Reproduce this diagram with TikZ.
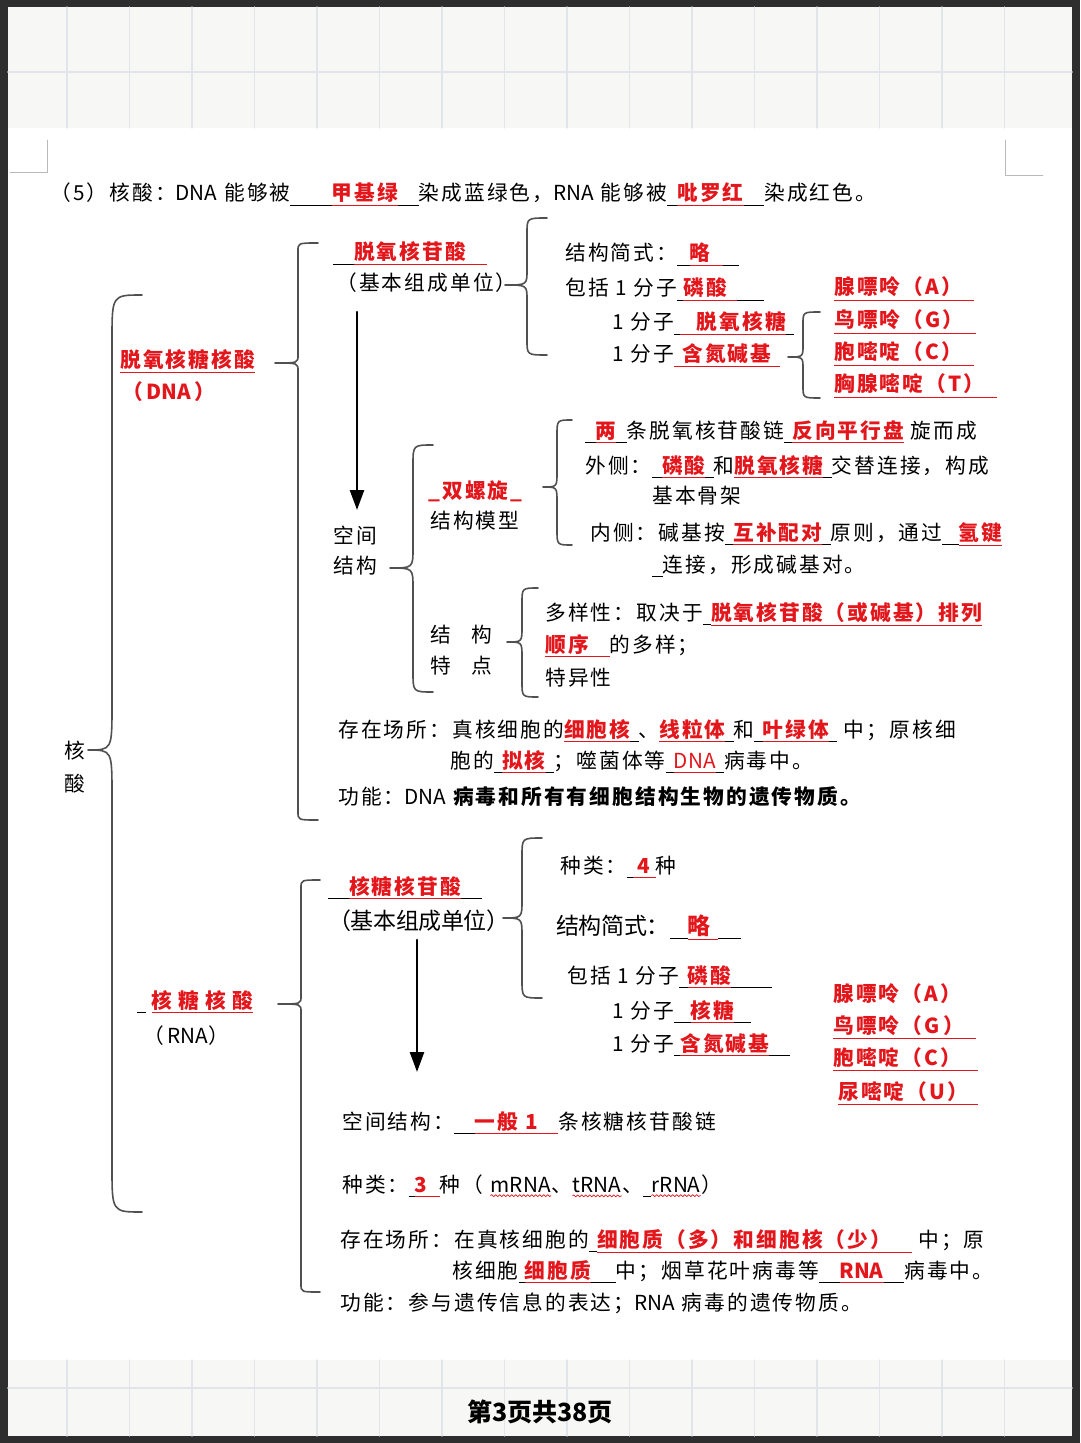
\documentclass[tikz,border=0pt]{standalone}
\usepackage{fontspec}
\setmainfont{Noto Sans CJK SC}[LetterSpace=10]
\usetikzlibrary{arrows.meta, decorations.pathmorphing}
\definecolor{keyred}{HTML}{E3161B}
\definecolor{framedark}{HTML}{2E2E2E}
\definecolor{band}{HTML}{F7F7F5}
\definecolor{gridln}{HTML}{E1E4E8}
\definecolor{bracegray}{HTML}{505050}
% red answer, underlined; black blank line; wavy mark; latin without spacing
\newcommand\redans[1]{\textcolor{keyred}{\underline{\vphantom{字}\bfseries #1}}}
\newcommand\blnk[1]{\underline{\vphantom{字}\hspace{#1}}}
\newcommand\nls[1]{{\addfontfeature{LetterSpace=0}#1}}
\newcommand\wav[1]{\tikz[baseline=(w.base)]{\node[inner sep=0pt] (w) {\nls{#1}};
  \draw[keyred, line width=0.35pt, decorate, decoration={snake, amplitude=0.5pt, segment length=2pt}]
    ([yshift=-1.6pt]w.south west) -- ([yshift=-1.6pt]w.south east);}}
\begin{document}
\begin{tikzpicture}[x=0.5pt, y=-0.5pt, line cap=round, line join=round,
  txt/.style={anchor=base west, inner sep=0pt, font=\fontsize{10.35}{12}\selectfont},
  big/.style={txt, font=\fontsize{11.5}{13}\selectfont\addfontfeature{LetterSpace=-2}},
  brace/.style={draw=bracegray, line width=0.8pt},
  arr/.style={line width=1.3pt, -{Triangle[length=10pt,width=7pt]}}]
\useasboundingbox (0,0) rectangle (1080,1443);
% page and the grid bands
\fill[framedark] (0,0) rectangle (1080,1443);
\fill[white] (8,7) rectangle (1072,1436);
\fill[band] (8,7) rectangle (1072,128);
\fill[band] (8,1360) rectangle (1072,1436);
\foreach \gx in {67,129.5,...,1050}
  \draw[gridln, line width=0.6pt] (\gx,7) -- (\gx,128) (\gx,1360) -- (\gx,1436);
\draw[gridln, line width=0.8pt] (8,72) -- (1072,72) (8,1388) -- (1072,1388);
\draw[gray!55] (10,172) -- (47,172) -- (47,140);
\draw[gray!55] (1043,175) -- (1005,175) -- (1005,140);
% braces: spine x / end x / tip x / top / tip y / bottom / curl
\foreach \sx/\ex/\tx/\yt/\ym/\yb/\rr in {112/142/88/295/750/1212/45,
    298/318/275/243/363/820/8, 527/547/505/218/285/355/15,
    803/820/788/312/357/398/12, 413/433/390/445/568/692/20,
    557/572/543/420/487/545/15, 522/538/507/588/642/697/15,
    301/320/278/880/1004/1292/8, 522/542/503/838/918/998/18}
  \draw[brace] (\ex,\yt) .. controls (\sx,\yt) .. (\sx,\yt+\rr) -- (\sx,\ym-\rr)
    .. controls (\sx,\ym) .. (\tx,\ym) .. controls (\sx,\ym) .. (\sx,\ym+\rr)
    -- (\sx,\yb-\rr) .. controls (\sx,\yb) .. (\ex,\yb);
% title line
\node[txt] (title) at (50,201) {（5）核酸：\nls{DNA} 能够被\blnk{2em}\redans{甲基绿}\blnk{1em}染成蓝绿色，\nls{RNA} 能够被\blnk{0.5em}\redans{吡罗红}\blnk{1em}染成红色。};
\node[txt] (heA) at (64,758) {核};
\node[txt] (heB) at (64,791) {酸};
% DNA
\node[txt] (dnaName) at (120,368) {\redans{脱氧核糖核酸}};
\node[txt] (dnaAbbr) at (122,400) {\textcolor{keyred}{\bfseries （\,\nls{DNA}\,）}};
\node[txt] (unitD) at (333,260) {\blnk{1em}\redans{脱氧核苷酸\hspace{1em}}};
\node[txt] (unitDb) at (336,291) {（基本组成单位）};
\node[txt] (sD1) at (565,261) {结构简式：\blnk{0.6em}\redans{略\hspace{0.6em}}\blnk{0.8em}};
\node[txt] (sD2) at (565,296) {包括 1 分子\blnk{0.3em}\redans{磷酸\hspace{0.5em}}\blnk{1.3em}};
\node[txt] (sD3) at (612,330) {1 分子\blnk{0.3em}\redans{\hspace{0.8em}脱氧核糖}\blnk{0.4em}};
\node[txt] (sD4) at (612,362) {1 分子\redans{\hspace{0.4em}含氮碱基\hspace{0.4em}}};
\foreach \nm/\yy/\bs in {bD1/295/腺嘌呤（A）, bD2/328/鸟嘌呤（G）, bD3/360/胞嘧啶（C）, bD4/392/胸腺嘧啶（T）}
  \node[txt] (\nm) at (834,\yy) {\redans{\bs\hspace{0.6em}}};
\coordinate (dTop) at (357,312);
\coordinate (dBot) at (357,510);
\draw[arr] (dTop) -- (dBot);
\node[txt] (spA) at (333,543) {空间};
\node[txt] (spB) at (333,573) {结构};
\node[txt] (dh1) at (428,498) {\textcolor{keyred}{\bfseries\_双螺旋\_}};
\node[txt] (dh2) at (430,528) {结构模型};
\node[txt] (h1) at (585,438) {\blnk{0.5em}\redans{两}\blnk{0.5em}条脱氧核苷酸链\blnk{0.4em}\redans{反向平行盘} 旋而成};
\node[txt] (h2) at (585,473) {外侧：\blnk{0.5em}\redans{磷酸}\blnk{0.4em}和\redans{脱氧核糖}\blnk{0.4em}交替连接，构成};
\node[txt] (h3) at (652,503) {基本骨架};
\node[txt] (h4) at (590,540) {内侧：碱基按\blnk{0.4em}\redans{互补配对}\blnk{0.4em}原则，通过\blnk{0.8em}\redans{氢键}};
\node[txt] (h5) at (652,572) {\blnk{0.5em}连接，形成碱基对。};
\node[txt] (tzA) at (430,642) {结\hspace{1em}构};
\node[txt] (tzB) at (430,673) {特\hspace{1em}点};
\node[txt] (f1) at (545,620) {多样性：取决于\blnk{0.4em}\redans{脱氧核苷酸（或碱基）排列}};
\node[txt] (f2) at (545,652) {\redans{顺序\hspace{1em}}的多样；};
\node[txt] (f3) at (545,685) {特异性};
\node[txt] (lD1) at (338,737) {存在场所：真核细胞的\redans{细胞核}\blnk{0.4em}、\redans{线粒体}\blnk{0.4em}和\blnk{0.4em}\redans{叶绿体}\blnk{0.4em} 中；原核细};
\node[txt] (lD2) at (450,768) {胞的\blnk{0.4em}\redans{拟核}\blnk{0.4em}；噬菌体等\blnk{0.4em}\textcolor{keyred}{\underline{\vphantom{字}\nls{DNA}}}\blnk{0.4em}病毒中。};
\node[txt] (fD) at (338,804) {功能：\nls{DNA} {\bfseries 病毒和所有有细胞结构生物的遗传物质。}};
% RNA
\node[txt] (rnaName) at (137,1008) {\blnk{0.4em}\hspace{0.3em}\redans{核\hspace{.3em}糖\hspace{.3em}核\hspace{.3em}酸}};
\node[txt] (rnaAbbr) at (143,1043) {（\,\nls{RNA}）};
\node[txt] (unitR) at (328,894) {\blnk{1em}\redans{核糖核苷酸}\blnk{1em}};
\node[big] (unitRb) at (328,929) {（基本组成单位）};
\node[txt] (sR1) at (560,873) {种类：\blnk{0.3em}\redans{\hspace{0.2em}4\hspace{0.3em}}种};
\node[big] (sR2) at (556,934) {结构简式：\blnk{0.8em}\redans{略\hspace{0.3em}}\blnk{1em}};
\node[txt] (sR3) at (567,983) {包括 1 分子\blnk{0.4em}\redans{磷酸}\blnk{2em}};
\node[txt] (sR4) at (612,1018) {1 分子\blnk{0.8em}\redans{核糖}\blnk{0.8em}};
\node[txt] (sR5) at (612,1051) {1 分子\blnk{0.3em}\redans{含氮碱基}\blnk{1em}};
\node[txt] (bR1) at (833,1001) {\textcolor{keyred}{\bfseries 腺嘌呤（A）}};
\node[txt] (bR2) at (833,1033) {\redans{鸟嘌呤（G\,）\hspace{0.6em}}};
\node[txt] (bR3) at (833,1065) {\redans{胞嘧啶（C）\hspace{0.8em}}};
\node[txt] (bR4) at (838,1099) {\redans{尿嘧啶（U）\hspace{0.5em}}};
\coordinate (rTop) at (417,940);
\coordinate (rBot) at (417,1072);
\draw[arr] (rTop) -- (rBot);
\node[txt] (sp2) at (342,1129) {空间结构：\blnk{1em}\redans{一般 1\hspace{1em}}条核糖核苷酸链};
\node[txt] (ty) at (342,1192) {种类：\blnk{0.3em}\redans{3\hspace{0.6em}}种（ \wav{mRNA}、\wav{tRNA}、\blnk{0.4em}\wav{rRNA}）};
\node[txt] (lR1) at (340,1247) {存在场所：在真核细胞的\blnk{0.4em}\redans{细胞质（多）和细胞核（少）\hspace{1em}} 中；原};
\node[txt] (lR2) at (452,1278) {核细胞\blnk{0.3em}\redans{细胞质}\blnk{1.2em}中；烟草花叶病毒等\blnk{1em}\redans{\nls{RNA}}\blnk{1em}病毒中。};
\node[txt] (fR) at (340,1310) {功能：参与遗传信息的表达；\nls{RNA} 病毒的遗传物质。};
% page number
\node[inner sep=0pt, font=\fontsize{12.5}{14}\selectfont\bfseries\addfontfeature{LetterSpace=0}] (pg) at (540,1412) {第3页共38页};
\end{tikzpicture}
\end{document}
